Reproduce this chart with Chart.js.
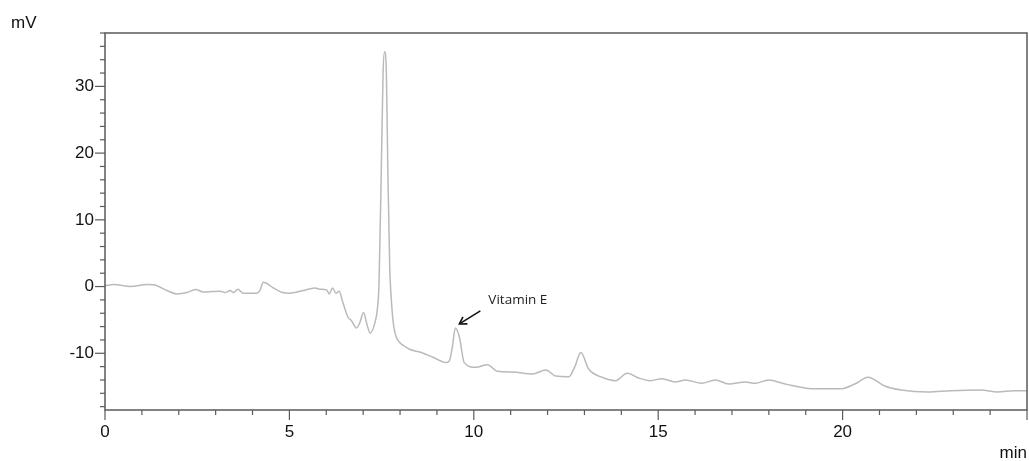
<!DOCTYPE html>
<html>
<head>
<meta charset="utf-8">
<script src="https://cdn.jsdelivr.net/npm/chart.js@4.4.1/dist/chart.umd.min.js"></script>
<style>
  html, body { margin: 0; padding: 0; background: #fff; }
  #wrap { width: 1029px; height: 461px; position: relative; }
</style>
</head>
<body>
<div id="wrap"><canvas id="c" width="1029" height="461"></canvas></div>
<script>
// Retention time (min)
const times = [
  0.00, 0.24, 0.69, 1.14, 1.32, 1.68, 1.95, 2.22, 2.45, 2.67, 2.90, 3.12, 3.26, 3.39, 3.48, 3.60, 3.75,
  4.11, 4.20, 4.29, 4.38, 4.56, 4.79, 5.01, 5.37, 5.69, 5.82, 6.01, 6.08, 6.17, 6.26, 6.35, 6.45,
  6.59, 6.68, 6.82, 6.91, 7.01, 7.10, 7.19, 7.31, 7.38, 7.43, 7.49, 7.54, 7.58, 7.63, 7.67, 7.72,
  7.77, 7.83, 7.90, 7.99, 8.17, 8.26, 8.44, 8.53, 8.89, 9.25, 9.34, 9.42, 9.50, 9.61, 9.74, 10.06, 10.37,
  10.64, 11.05, 11.59, 11.95, 12.22, 12.58, 12.74, 12.90, 13.12, 13.48, 13.84, 14.16, 14.47, 14.79,
  15.10, 15.46, 15.74, 16.18, 16.55, 16.91, 17.36, 17.63, 17.99, 18.44, 19.16, 19.97, 20.33, 20.69,
  21.14, 21.59, 22.31, 22.94, 23.75, 24.20, 24.65, 25.00
];
// Detector signal (mV)
const signal = [
  0.15, 0.30, 0.00, 0.30, 0.26, -0.60, -1.10, -0.90, -0.45, -0.80, -0.75, -0.70, -0.90, -0.60, -0.90, -0.40, -1.00,
  -1.00, -0.60, 0.65, 0.50, -0.20, -0.85, -1.00, -0.60, -0.20, -0.40, -0.50, -1.10, -0.20, -1.00, -0.70, -2.40,
  -4.60, -5.10, -6.20, -5.40, -3.90, -5.60, -7.00, -5.60, -3.60, 0.40, 17.0, 32.0, 35.2, 32.0, 17.0, 3.00,
  -2.50, -6.00, -7.60, -8.40, -9.10, -9.40, -9.70, -9.80, -10.60, -11.40, -11.10, -9.00, -6.20, -7.60, -11.40, -12.10, -11.70,
  -12.70, -12.80, -13.10, -12.50, -13.40, -13.50, -12.00, -9.90, -12.40, -13.60, -14.10, -13.00, -13.70, -14.10,
  -13.80, -14.30, -14.00, -14.50, -14.00, -14.60, -14.30, -14.50, -14.00, -14.60, -15.30, -15.30, -14.60, -13.60,
  -14.90, -15.50, -15.80, -15.60, -15.50, -15.80, -15.60, -15.60
];
const xTickLabels = [0, 5, 10, 15, 20];
const yTickLabels = [-10, 0, 10, 20, 30];
const peakLabel = 'Vitamin E';
const peakTime = 9.50;
const peakValue = -6.20;

const points = times.map((t, i) => ({ x: t, y: signal[i] }));

const framePlugin = {
  id: 'frame',
  afterDraw(chart) {
    const { ctx, chartArea: a, scales: { x, y } } = chart;
    ctx.save();
    ctx.strokeStyle = '#5a5a5a';
    ctx.lineWidth = 1.5;
    ctx.strokeRect(a.left, a.top, a.right - a.left, a.bottom - a.top);
    ctx.lineWidth = 1.2;
    for (let v = -18; v <= 38; v += 2) {
      const py = y.getPixelForValue(v);
      const len = (v % 10 === 0) ? 10 : 5;
      ctx.beginPath();
      ctx.moveTo(a.left - len, py);
      ctx.lineTo(a.left, py);
      ctx.stroke();
    }
    for (let t = 0; t <= 25; t += 1) {
      const px = x.getPixelForValue(t);
      const len = (t % 5 === 0) ? 10 : 5;
      ctx.beginPath();
      ctx.moveTo(px, a.bottom);
      ctx.lineTo(px, a.bottom + len);
      ctx.stroke();
    }
    ctx.fillStyle = '#111';
    ctx.font = '17px "Liberation Sans", Arial, sans-serif';
    ctx.textBaseline = 'middle';
    ctx.textAlign = 'left';
    ctx.fillText('mV', 11, 23);
    ctx.textAlign = 'right';
    ctx.fillText('min', 1027, 453);
    const px = x.getPixelForValue(peakTime);
    const py = y.getPixelForValue(peakValue);
    const hx = px + 4, hy = py - 4;
    const tx = px + 25, ty = py - 17;
    ctx.strokeStyle = '#111';
    ctx.lineWidth = 1.6;
    ctx.beginPath();
    ctx.moveTo(tx, ty);
    ctx.lineTo(hx, hy);
    ctx.stroke();
    const ang = Math.atan2(hy - ty, hx - tx);
    ctx.beginPath();
    ctx.moveTo(hx - 8 * Math.cos(ang - 0.55), hy - 8 * Math.sin(ang - 0.55));
    ctx.lineTo(hx, hy);
    ctx.lineTo(hx - 8 * Math.cos(ang + 0.55), hy - 8 * Math.sin(ang + 0.55));
    ctx.stroke();
    ctx.fillStyle = '#222';
    ctx.font = '13.5px "Open Sans", "Liberation Sans", sans-serif';
    ctx.textAlign = 'left';
    ctx.fillText(peakLabel, px + 33, py - 28);
    ctx.restore();
  }
};

new Chart(document.getElementById('c'), {
  type: 'line',
  data: {
    datasets: [{
      data: points,
      borderColor: '#bababa',
      borderWidth: 1.5,
      pointRadius: 0,
      fill: false,
      cubicInterpolationMode: 'monotone'
    }]
  },
  options: {
    responsive: false,
    animation: false,
    layout: { padding: { top: 33, right: 2, left: 0, bottom: 0 } },
    plugins: { legend: { display: false }, tooltip: { enabled: false } },
    scales: {
      x: {
        type: 'linear',
        min: 0, max: 25,
        afterFit(s) { s.height = 51; },
        afterBuildTicks(s) { s.ticks = xTickLabels.map(v => ({ value: v })); },
        grid: { display: false, drawTicks: false },
        border: { display: false },
        ticks: {
          padding: 12,
          color: '#111',
          maxRotation: 0,
          autoSkip: false,
          font: { family: '"Liberation Sans", Arial, sans-serif', size: 17 }
        }
      },
      y: {
        type: 'linear',
        min: -18.5, max: 38,
        afterFit(s) { s.width = 105; },
        afterBuildTicks(s) { s.ticks = yTickLabels.map(v => ({ value: v })); },
        grid: { display: false, drawTicks: false },
        border: { display: false },
        ticks: {
          padding: 11,
          color: '#111',
          autoSkip: false,
          font: { family: '"Liberation Sans", Arial, sans-serif', size: 17 }
        }
      }
    }
  },
  plugins: [framePlugin]
});
</script>
</body>
</html>
